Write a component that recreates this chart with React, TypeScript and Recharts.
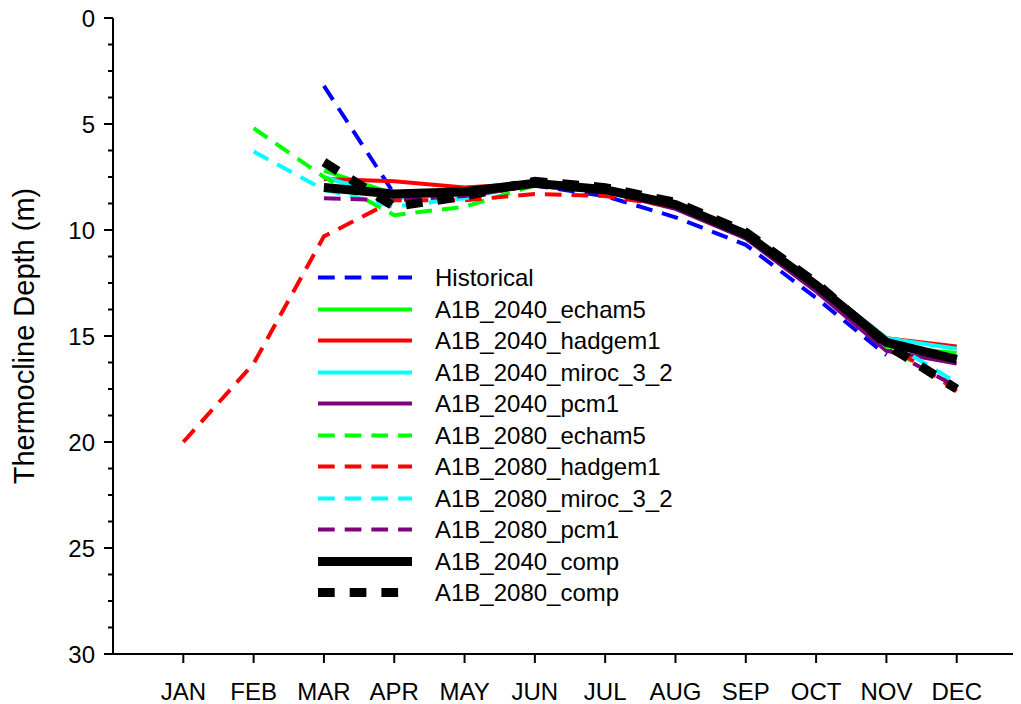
import React from 'react';
import { LineChart, Line, XAxis, YAxis, Legend } from 'recharts';

// Monthly thermocline depth (m) per scenario / model
const months = ['JAN', 'FEB', 'MAR', 'APR', 'MAY', 'JUN', 'JUL', 'AUG', 'SEP', 'OCT', 'NOV', 'DEC'];
const monthNums = [1, 2, 3, 4, 5, 6, 7, 8, 9, 10, 11, 12];

const historical = [null, null, 3.2, 8.3, 8.3, 7.9, 8.4, 9.4, 10.7, 13.2, 15.9, null];
const a2040Echam5 = [null, null, 7.2, 8.3, 8.2, 7.8, 8.1, 8.8, 10.2, 12.7, 15.5, 15.8];
const a2040Hadgem1 = [null, null, 7.6, 7.7, 8.0, 7.8, 8.1, 8.8, 10.2, 12.5, 15.1, 15.5];
const a2040Miroc = [null, null, 7.5, 8.5, 8.3, 7.8, 8.1, 8.8, 10.2, 12.5, 15.1, 15.6];
const a2040Pcm1 = [null, null, 7.9, 8.4, 8.3, 7.9, 8.2, 9.0, 10.4, 12.9, 15.7, 16.3];
const a2080Echam5 = [null, 5.2, 7.5, 9.3, 8.9, 7.9, 8.1, 8.8, 10.2, 12.6, 15.5, 17.4];
const a2080Hadgem1 = [20.0, 16.3, 10.3, 8.6, 8.6, 8.3, 8.4, 8.9, 10.3, 12.6, 15.3, 17.6];
const a2080Miroc = [null, 6.3, 8.1, 8.9, 8.5, 7.8, 8.1, 8.8, 10.2, 12.5, 15.2, 17.2];
const a2080Pcm1 = [null, null, 8.5, 8.6, 8.4, 7.9, 8.2, 8.9, 10.4, 12.8, 15.6, 17.4];
const a2040Comp = [null, null, 8.0, 8.3, 8.2, 7.8, 8.1, 8.8, 10.2, 12.6, 15.3, 16.1];
const a2080Comp = [null, null, 6.8, 8.9, 8.4, 7.7, 8.0, 8.7, 10.1, 12.5, 15.4, 17.5];

const majorTicks = [0, 5, 10, 15, 20, 25, 30];
const yTicks = [0, 1.25, 2.5, 3.75, 5, 6.25, 7.5, 8.75, 10, 11.25, 12.5, 13.75, 15, 16.25, 17.5, 18.75, 20, 21.25, 22.5, 23.75, 25, 26.25, 27.5, 28.75, 30];

const FONT = '"Liberation Sans", Arial, Helvetica, sans-serif';

const COLORED_DASH = '16.7 10';
const BLACK_DASH = '16.7 15';

const series = [
  { key: 'historical', name: 'Historical', values: historical, color: '#0000ff', width: 4, dash: COLORED_DASH },
  { key: 'a2040Echam5', name: 'A1B_2040_echam5', values: a2040Echam5, color: '#00ff00', width: 4, dash: undefined },
  { key: 'a2040Hadgem1', name: 'A1B_2040_hadgem1', values: a2040Hadgem1, color: '#ff0000', width: 4, dash: undefined },
  { key: 'a2040Miroc', name: 'A1B_2040_miroc_3_2', values: a2040Miroc, color: '#00ffff', width: 4, dash: undefined },
  { key: 'a2040Pcm1', name: 'A1B_2040_pcm1', values: a2040Pcm1, color: '#800080', width: 4, dash: undefined },
  { key: 'a2080Echam5', name: 'A1B_2080_echam5', values: a2080Echam5, color: '#00ff00', width: 4, dash: COLORED_DASH },
  { key: 'a2080Hadgem1', name: 'A1B_2080_hadgem1', values: a2080Hadgem1, color: '#ff0000', width: 4, dash: COLORED_DASH },
  { key: 'a2080Miroc', name: 'A1B_2080_miroc_3_2', values: a2080Miroc, color: '#00ffff', width: 4, dash: COLORED_DASH },
  { key: 'a2080Pcm1', name: 'A1B_2080_pcm1', values: a2080Pcm1, color: '#800080', width: 4, dash: COLORED_DASH },
  { key: 'a2040Comp', name: 'A1B_2040_comp', values: a2040Comp, color: '#000000', width: 9, dash: undefined },
  { key: 'a2080Comp', name: 'A1B_2080_comp', values: a2080Comp, color: '#000000', width: 9, dash: BLACK_DASH },
];

const data = monthNums.map((m, i) => {
  const row: Record<string, number | null> = { month: m };
  series.forEach((s) => {
    row[s.key] = s.values[i];
  });
  return row;
});

// Y ticks: long marks with labels every 5 m, short unlabeled marks between
const YTick = (props: any) => {
  const { x, y, payload } = props;
  const axisX = x + 18;
  const v = payload.value;
  const major = majorTicks.includes(v);
  return (
    <g>
      <line x1={axisX - (major ? 9 : 5)} x2={axisX} y1={y} y2={y} stroke="#000" strokeWidth={2} />
      {major && (
        <text x={x} y={y} dy="0.36em" textAnchor="end" fontFamily={FONT} fontSize={24} fill="#000">
          {v}
        </text>
      )}
    </g>
  );
};

const XTick = (props: any) => {
  const { x, y, payload } = props;
  return (
    <text x={x} y={y} dy={36.5} textAnchor="middle" fontFamily={FONT} fontSize={24} fill="#000">
      {months[payload.value - 1]}
    </text>
  );
};

const LegendBox = () => (
  <div style={{ fontFamily: FONT, fontSize: 24, color: '#000' }}>
    {series.map((s) => (
      <div key={s.key} style={{ display: 'flex', alignItems: 'center', height: 31.5 }}>
        <svg width={94} height={31} style={{ display: 'block' }}>
          <line
            x1={0}
            x2={94}
            y1={15.5}
            y2={15.5}
            stroke={s.color}
            strokeWidth={s.width}
            strokeDasharray={s.dash}
          />
        </svg>
        <span style={{ marginLeft: 23, lineHeight: '31.5px', whiteSpace: 'nowrap' }}>{s.name}</span>
      </div>
    ))}
  </div>
);

export default function App() {
  return (
    <div style={{ width: 1013, height: 704, marginTop: -8, background: '#fff' }}>
      <LineChart
        width={1013}
        height={704}
        data={data}
        margin={{ top: 18, right: 1, bottom: 0, left: 0 }}
      >
        <XAxis
          dataKey="month"
          type="number"
          domain={[0, 12.9]}
          allowDataOverflow
          ticks={monthNums}
          interval={0}
          height={50}
          tickSize={9}
          tickMargin={0}
          axisLine={{ stroke: '#000', strokeWidth: 2 }}
          tickLine={{ stroke: '#000', strokeWidth: 2 }}
          tick={<XTick />}
        />
        <YAxis
          type="number"
          domain={[0, 30]}
          reversed
          ticks={yTicks}
          interval={0}
          width={105}
          tickSize={9}
          tickMargin={9}
          tickLine={false}
          axisLine={{ stroke: '#000', strokeWidth: 2 }}
          tick={<YTick />}
          label={{
            value: 'Thermocline Depth (m)',
            angle: -90,
            position: 'center',
            dx: -37,
            style: { fontFamily: FONT, fontSize: 29, fill: '#000', textAnchor: 'middle' },
          }}
        />
        <Legend
          layout="vertical"
          align="center"
          verticalAlign="middle"
          content={<LegendBox />}
          wrapperStyle={{ position: 'absolute', left: 310, top: 262, width: 420 }}
        />
        {series.map((s) => (
          <Line
            key={s.key}
            dataKey={s.key}
            name={s.name}
            type="linear"
            stroke={s.color}
            strokeWidth={s.width}
            strokeDasharray={s.dash}
            dot={false}
            activeDot={false}
            isAnimationActive={false}
          />
        ))}
      </LineChart>
    </div>
  );
}
